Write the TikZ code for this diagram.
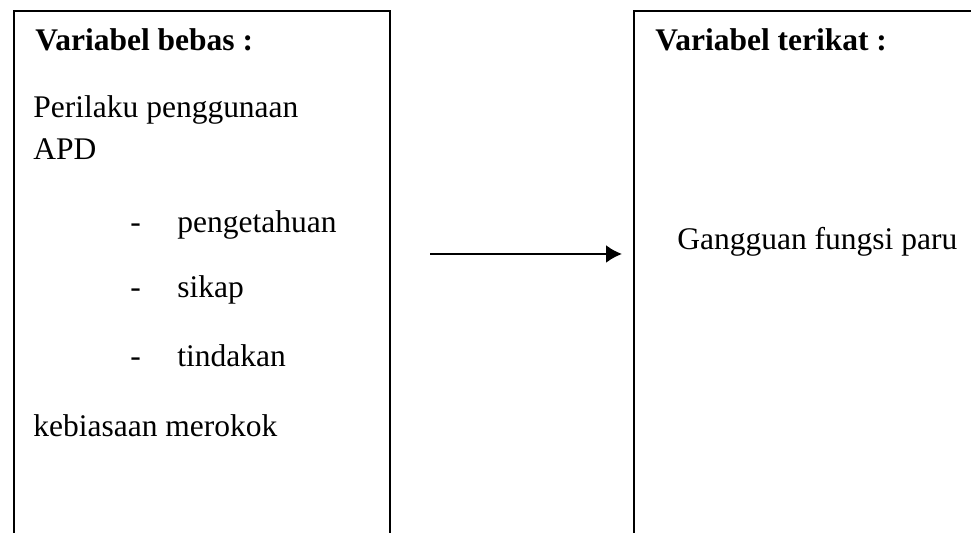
\documentclass[tikz,border=0pt]{standalone}
\usepackage{fontspec}
\setmainfont{Liberation Serif}
\usetikzlibrary{positioning,arrows.meta}

\begin{document}
\begin{tikzpicture}[
  x=0.5pt, y=-0.5pt,
  every node/.style={font=\fontsize{15.75}{19}\selectfont},
  varbox/.style={draw,line width=1pt,anchor=north west,inner sep=0pt,
    minimum height=300pt},
  judul/.style={anchor=base west,inner sep=0pt,
    font=\fontsize{15.75}{19}\selectfont\bfseries},
  isi/.style={anchor=base west,inner sep=0pt}
]

\path[use as bounding box,clip] (0,0) rectangle (971,533);

% kotak
\node[varbox,minimum width=188pt] (bebas) at (13,10) {};
\node[varbox,minimum width=200pt] (terikat) at (633,10) {};

% variabel bebas
\node[judul] (jb) at (35,51) {Variabel bebas :};
\node[isi] (pa) at (33,118) {Perilaku penggunaan};
\node[isi] (apd) at (33,160) {APD};
\node[isi] (d1) at (130,233) {-};
\node[isi] (i1) at (177,233) {pengetahuan};
\node[isi] (d2) at (130,298) {-};
\node[isi] (i2) at (177,298) {sikap};
\node[isi] (d3) at (130,367) {-};
\node[isi] (i3) at (177,367) {tindakan};
\node[isi] (rokok) at (33,437) {kebiasaan merokok};

% variabel terikat
\node[judul] (jt) at (655,51) {Variabel terikat :};
\node[isi] (paru) at (677,250) {Gangguan fungsi paru};

\coordinate (pangkal) at (430,254);
\path
(pangkal) edge[-{Latex[length=8pt,width=9pt]}, line width=1.1pt,
  shorten >=5.5pt] (terikat.west |- pangkal)
;

\end{tikzpicture}
\end{document}
